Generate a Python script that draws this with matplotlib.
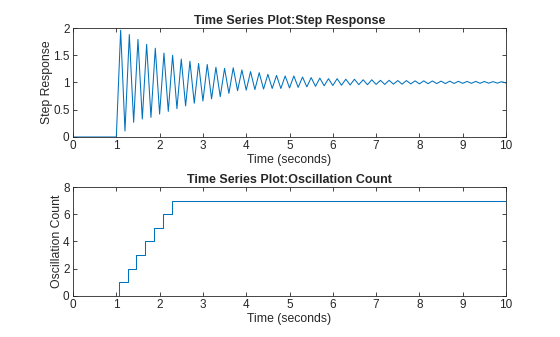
import matplotlib
matplotlib.use("Agg")
import matplotlib.pyplot as plt

# Step response: extrema (time, value)
start_t = [0.0, 1.0]
start_v = [0.0, 0.0]
peak_t = [1.1, 1.3, 1.5, 1.7, 1.9, 2.1, 2.3, 2.5, 2.7, 2.9, 3.1, 3.3, 3.5, 3.7, 3.9,
          4.1, 4.3, 4.5, 4.7, 4.9, 5.1, 5.3, 5.5, 5.7, 5.9, 6.1, 6.3, 6.5, 6.7, 6.9,
          7.1, 7.3, 7.5, 7.7, 7.9, 8.1, 8.3, 8.5, 8.7, 8.9, 9.1, 9.3, 9.5, 9.7, 9.9]
peak_v = [1.96, 1.88, 1.79, 1.70, 1.63, 1.54, 1.50, 1.43, 1.39, 1.35, 1.33, 1.28, 1.26, 1.27, 1.23,
          1.20, 1.18, 1.15, 1.13, 1.12, 1.12, 1.10, 1.09, 1.08, 1.07, 1.07, 1.06, 1.06, 1.05, 1.05,
          1.04, 1.04, 1.035, 1.035, 1.03, 1.03, 1.028, 1.025, 1.025, 1.022, 1.02, 1.02, 1.018, 1.016, 1.015]
trough_t = [1.2, 1.4, 1.6, 1.8, 2.0, 2.2, 2.4, 2.6, 2.8, 3.0, 3.2, 3.4, 3.6, 3.8, 4.0,
            4.2, 4.4, 4.6, 4.8, 5.0, 5.2, 5.4, 5.6, 5.8, 6.0, 6.2, 6.4, 6.6, 6.8, 7.0,
            7.2, 7.4, 7.6, 7.8, 8.0, 8.2, 8.4, 8.6, 8.8, 9.0, 9.2, 9.4, 9.6, 9.8, 10.0]
trough_v = [0.11, 0.27, 0.33, 0.36, 0.42, 0.47, 0.52, 0.57, 0.62, 0.66, 0.70, 0.74, 0.80, 0.85, 0.86,
            0.87, 0.88, 0.89, 0.89, 0.90, 0.91, 0.92, 0.93, 0.94, 0.945, 0.95, 0.955, 0.96, 0.96, 0.965,
            0.965, 0.97, 0.97, 0.975, 0.975, 0.978, 0.98, 0.98, 0.982, 0.984, 0.985, 0.986, 0.987, 0.988, 0.99]

# Oscillation count steps
count_t = [0.0, 1.07, 1.28, 1.46, 1.67, 1.87, 2.08, 2.29, 10.0]
count_v = [0, 1, 2, 3, 4, 5, 6, 7, 7]

x_ticks = [0, 1, 2, 3, 4, 5, 6, 7, 8, 9, 10]
y1_ticks = [0, 0.5, 1, 1.5, 2]
y1_labels = ["0", "0.5", "1", "1.5", "2"]
y2_ticks = [0, 2, 4, 6, 8]

# merge extrema in time order
ext = sorted(zip(peak_t + trough_t, peak_v + trough_v))
resp_t = start_t + [e[0] for e in ext]
resp_v = start_v + [e[1] for e in ext]

plt.rcParams['font.family'] = ['Liberation Sans', 'DejaVu Sans']
C = '#0072BD'
AX = '#262626'

fig = plt.figure(figsize=(5.6, 3.37), dpi=100)
ax1 = fig.add_axes([0.1304, 0.5935, 0.7732, 0.3234])
ax2 = fig.add_axes([0.1304, 0.1217, 0.7732, 0.3234])

ax1.plot(resp_t, resp_v, color=C, lw=0.75)
ax2.step(count_t, count_v, where='post', color=C, lw=0.75)

for ax in (ax1, ax2):
    ax.set_xlim(0, 10)
    ax.set_xticks(x_ticks)
    ax.tick_params(direction='in', top=True, right=True, labelsize=8.5, length=3,
                   width=0.6, colors=AX, pad=2.5)
    for s in ax.spines.values():
        s.set_linewidth(0.6)
        s.set_color(AX)
    ax.set_xlabel('Time (seconds)', fontsize=8.8, color=AX, labelpad=1)

ax1.set_ylim(0, 2)
ax1.set_yticks(y1_ticks)
ax1.set_yticklabels(y1_labels)
ax1.set_ylabel('Step Response', fontsize=8.8, color=AX, labelpad=0)
ax1.set_title('Time Series Plot:Step Response', fontsize=9, fontweight='bold', color=AX, pad=3)

ax2.set_ylim(0, 8)
ax2.set_yticks(y2_ticks)
ax2.set_ylabel('Oscillation Count', fontsize=8.8, color=AX, labelpad=0)
ax2.set_title('Time Series Plot:Oscillation Count', fontsize=9, fontweight='bold', color=AX, pad=3)

fig.savefig('out.png', dpi=100)
